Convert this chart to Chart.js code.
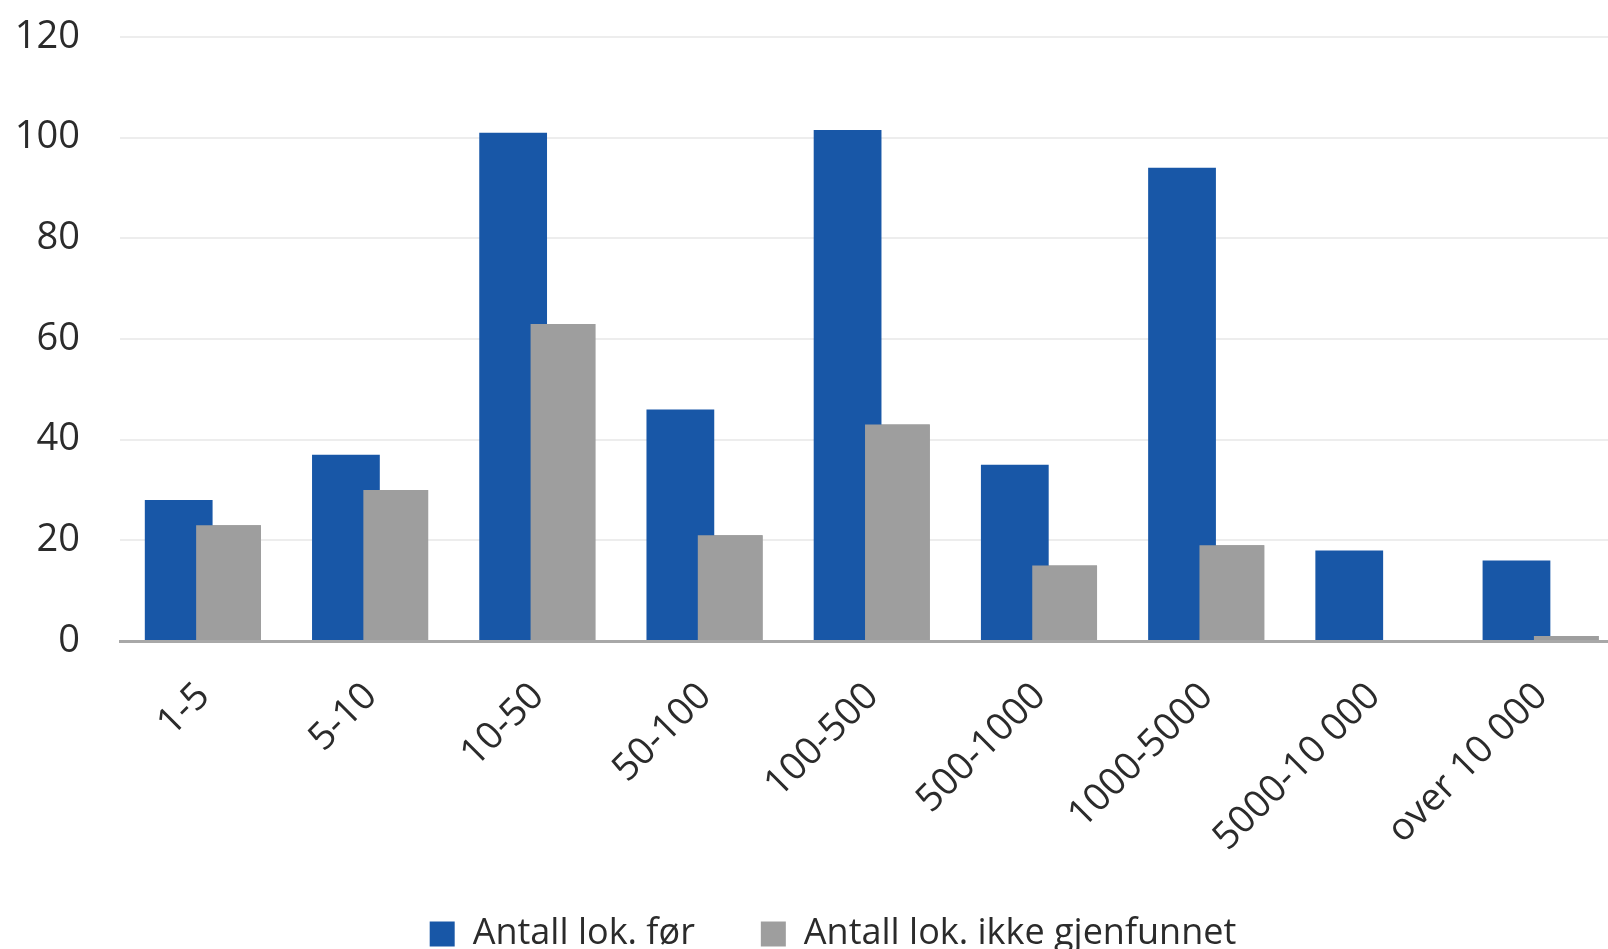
<!DOCTYPE html>
<html><head><meta charset="utf-8">
<script src="https://cdn.jsdelivr.net/npm/chart.js@4.4.1/dist/chart.umd.min.js"></script>
<style>html,body{margin:0;padding:0;background:#fff;overflow:hidden}#wrap{position:relative;width:1670px;height:949px}</style>
</head><body><div id="wrap"><canvas id="c"></canvas></div>
<script>
const categories = ['1-5','5-10','10-50','50-100','100-500','500-1000','1000-5000','5000-10 000','over 10 000'];
const antallFor = [28, 37, 101, 46, 101.5, 35, 94, 18, 16];
const ikkeGjenfunnet = [23, 30, 63, 21, 43, 15, 19, 0, 1];
const seriesNames = ['Antall lok. før', 'Antall lok. ikke gjenfunnet'];
const yMin = 0, yMax = 120, yStep = 20;

const FONT = "'Open Sans', 'Noto Sans', sans-serif";
const TXT = '#2b2b2b';

const grayOnTop = {
  id: 'grayOnTop',
  afterDatasetsDraw(chart) {
    const meta = chart.getDatasetMeta(1);
    if (meta && !meta.hidden) meta.controller.draw();
  }
};

new Chart(document.getElementById('c'), {
  type: 'bar',
  data: {
    labels: categories,
    datasets: [
      { label: seriesNames[0], data: antallFor, backgroundColor: '#1857a7', borderWidth: 0,
        categoryPercentage: 0.596, barPercentage: 1.36 },
      { label: seriesNames[1], data: ikkeGjenfunnet, backgroundColor: '#9e9e9e', borderWidth: 0,
        categoryPercentage: 0.596, barPercentage: 1.30 }
    ]
  },
  options: {
    responsive: true,
    maintainAspectRatio: false,
    animation: false,
    layout: { padding: { top: 37, right: 4, left: 0, bottom: -13 } },
    plugins: {
      tooltip: { enabled: false },
      legend: {
        position: 'bottom',
        labels: { font: { family: FONT, size: 36 }, color: TXT, boxWidth: 25, boxHeight: 25, padding: 66 }
      }
    },
    scales: {
      x: {
        grid: { display: false },
        border: { display: true, color: '#a8a8a8', width: 3 },
        ticks: { font: { family: FONT, size: 38 }, color: TXT, minRotation: 45, maxRotation: 45, autoSkip: false, padding: 25 },
        afterFit(s) { s.height = 209; }
      },
      y: {
        min: yMin, max: yMax,
        grid: { color: '#ededed', lineWidth: 2, drawTicks: false },
        border: { display: false },
        ticks: { stepSize: yStep, font: { family: FONT, size: 38 }, color: TXT, padding: 40 },
        afterFit(s) { s.width = 120; s.paddingTop = 0; s.paddingBottom = 0; }
      },
      yRight: {
        position: 'right',
        display: true,
        grid: { display: false, drawTicks: false },
        border: { display: false },
        ticks: { display: false },
        afterFit(s) { s.width = 41; s.paddingTop = 0; s.paddingBottom = 0; }
      }
    }
  },
  plugins: [grayOnTop]
});
</script>
</body></html>
